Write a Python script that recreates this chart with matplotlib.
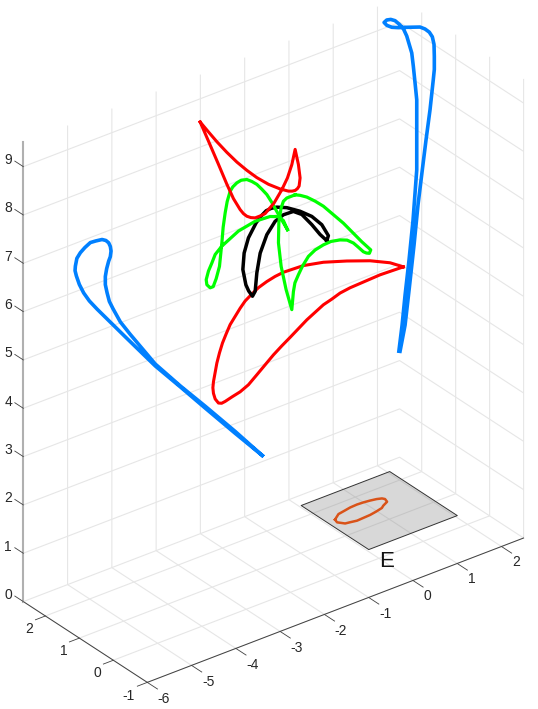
import matplotlib
matplotlib.use('Agg')
import matplotlib.pyplot as plt
from mpl_toolkits.mplot3d.art3d import Poly3DCollection

plt.rcParams['font.family'] = ['Liberation Sans', 'DejaVu Sans']

# curves
blue_left_x = [-1.102, -1.711, -2.388, -2.953, -3.517, -4.194, -4.833, -5.007, -5.135, -5.233, -5.300, -5.330, -5.323,
               -5.289, -5.210, -5.108, -4.984, -4.860, -4.720, -4.634, -4.571, -4.533, -4.517, -4.533, -4.571, -4.616,
               -4.646, -4.646, -4.607, -4.555, -4.472, -4.307, -4.081, -3.517, -2.953, -2.388, -1.711, -1.102]
blue_left_z = [1.60, 2.27, 3.03, 3.67, 4.30, 5.14, 5.94, 6.17, 6.38, 6.59, 6.79, 6.91, 7.00,
               7.15, 7.24, 7.31, 7.37, 7.36, 7.34, 7.29, 7.22, 7.13, 7.03, 6.92, 6.84, 6.70,
               6.55, 6.38, 6.20, 6.00, 5.82, 5.49, 5.15, 4.34, 3.69, 3.07, 2.31, 1.60]
blue_left_y = 2.0

blue_right_x = [1.217, 1.289, 1.357, 1.447, 1.537, 1.621, 1.621, 1.621, 1.582, 1.544, 1.508, 1.395, 1.318, 1.228,
                1.131, 1.034, 0.944, 0.883, 0.944, 1.056, 1.205, 1.395, 1.695, 1.808, 1.905, 1.973, 2.011, 2.018,
                2.018, 1.995, 1.921, 1.831, 1.747, 1.650, 1.560, 1.447, 1.357, 1.244]
blue_right_z = [3.40, 3.91, 4.51, 5.21, 6.00, 7.01, 7.78, 8.46, 8.83, 9.18, 9.47, 9.86, 10.04, 10.16,
                10.27, 10.33, 10.35, 10.32, 10.24, 10.16, 10.10, 10.04, 9.94, 9.86, 9.76, 9.64, 9.47, 9.22,
                8.95, 8.75, 8.15, 7.56, 6.97, 6.28, 5.48, 4.58, 3.89, 3.39]

red_top_x = [-3.271, -3.084, -2.894, -2.668, -2.442, -2.217, -1.991, -1.729, -1.465, -1.278, -1.194, -1.126, -1.074,
             -1.036, -1.014, -1.052, -1.126, -1.201, -1.300, -1.427, -1.600, -1.804, -1.916, -2.029, -2.126, -2.217,
             -2.293, -2.368, -2.519, -2.668, -2.858, -3.084, -3.271]
red_top_z = [9.72, 9.45, 9.18, 8.88, 8.60, 8.35, 8.12, 7.89, 7.70, 7.59, 7.56, 7.55, 7.57,
             7.61, 7.77, 8.06, 8.40, 8.11, 7.87, 7.67, 7.46, 7.31, 7.30, 7.30, 7.34, 7.40,
             7.48, 7.59, 7.87, 8.22, 8.70, 9.26, 9.72]

red_low_x = [1.318, 1.018, 0.567, 0.041, -0.488, -0.939, -1.391, -1.578, -1.765, -1.955, -2.104, -2.255, -2.368,
             -2.481, -2.594, -2.684, -2.767, -2.835, -2.894, -2.971, -2.984, -2.971, -2.932, -2.858, -2.786, -2.707,
             -2.549, -2.368, -2.181, -1.991, -1.804, -1.616, -1.427, -1.239, -0.862, -0.675, -0.488, -0.298, -0.111,
             0.115, 0.341, 0.792, 1.318]
red_low_z = [5.11, 5.30, 5.50, 5.68, 5.84, 5.93, 5.95, 5.93, 5.89, 5.83, 5.75, 5.66, 5.55,
             5.42, 5.29, 5.13, 4.97, 4.79, 4.60, 4.24, 4.12, 4.00, 3.87, 3.76, 3.73, 3.74,
             3.78, 3.82, 3.90, 4.04, 4.18, 4.32, 4.44, 4.55, 4.78, 4.87, 4.96, 5.01, 5.07,
             5.10, 5.11, 5.13, 5.11]

black_x = [-0.411, -0.375, -0.524, -0.749, -1.014, -1.314, -1.540, -1.668, -1.781, -1.894, -2.007, -2.181, -2.278,
           -2.307, -2.239, -2.176, -2.090, -2.029, -1.991, -1.916, -1.765, -1.578, -1.391, -1.165, -0.975, -0.749,
           -0.562, -0.411]
black_z = [6.26, 6.35, 6.63, 6.88, 7.08, 7.26, 7.35, 7.37, 7.36, 7.29, 7.19, 6.94, 6.66,
           6.33, 5.99, 5.84, 5.70, 5.78, 6.15, 6.53, 6.86, 7.07, 7.14, 7.13, 7.00, 6.71,
           6.44, 6.26]

green_a_x = [-1.300, -1.391, -1.503, -1.691, -2.029, -2.406, -2.781, -2.932, -3.007, -3.084, -3.135, -3.120, -3.045,
             -2.977, -2.910, -2.835, -2.781, -2.752, -2.707, -2.661, -2.594, -2.533, -2.442, -2.345, -2.217, -2.104,
             -1.991, -1.878, -1.765, -1.654, -1.540, -1.300]
green_a_z = [6.80, 7.02, 7.14, 7.21, 7.23, 7.16, 6.98, 6.86, 6.71, 6.57, 6.41, 6.30, 6.21,
             6.21, 6.35, 6.58, 7.05, 7.36, 7.64, 7.86, 8.05, 8.12, 8.17, 8.19, 8.16, 8.08,
             7.98, 7.84, 7.69, 7.49, 7.26, 6.80]

green_b_x = [-1.126, -1.314, -1.391, -1.442, -1.472, -1.494, -1.503, -1.442, -1.330, -1.201, -1.165, -1.131, -1.052,
             -0.957, -0.826, -0.675, -0.488, -0.314, -0.111, 0.047, 0.190, 0.296, 0.415, 0.483, 0.551, 0.582, 0.379,
             -0.036, -0.488, -0.675, -0.862, -1.014, -1.126]
green_b_z = [7.46, 7.46, 7.42, 7.30, 7.15, 7.01, 6.60, 6.09, 5.57, 5.11, 5.47, 5.64, 5.78,
             5.93, 6.08, 6.16, 6.20, 6.21, 6.17, 6.11, 6.00, 5.88, 5.74, 5.69, 5.66, 5.72, 5.96,
             6.49, 7.00, 7.17, 7.32, 7.41, 7.46]

curve_y = 1.0

# orbit and patch on the floor
ellipse_x = [0.22, 0.29, 0.39, 0.55, 0.70, 0.86, 1.00, 1.13, 1.26, 1.35, 1.38, 1.35, 1.21, 1.14, 0.98, 0.82, 0.66,
             0.51, 0.38, 0.28, 0.19, 0.22]
ellipse_y = [1.58, 1.63, 1.70, 1.73, 1.76, 1.77, 1.76, 1.74, 1.71, 1.67, 1.62, 1.52, 1.45, 1.40, 1.36, 1.33, 1.32,
             1.31, 1.34, 1.36, 1.48, 1.58]
patch_x = [0.05, 2.05, 2.05, 0.05]
patch_y = [2.37, 2.37, 0.38, 0.38]

x_ticks = [-6, -5, -4, -3, -2, -1, 0, 1, 2]
y_ticks = [-1, 0, 1, 2]
z_ticks = [0, 1, 2, 3, 4, 5, 6, 7, 8, 9]
x_lim = (-6, 2.5)
y_lim = (-1, 2.65)
z_lim = (0, 9.5)

fig = plt.figure(figsize=(5.38, 7.09), dpi=100)
W = 718.3
ax = fig.add_axes([-95.4 / 538, -0.1 / 709, W / 538, W / 709], projection='3d', computed_zorder=False)
ax.patch.set_alpha(0)
ax.set_proj_type('ortho')
ax.view_init(elev=30, azim=-127.5)
ax.set_xlim(*x_lim)
ax.set_ylim(*y_lim)
ax.set_zlim(*z_lim)
ax.set_box_aspect((8.5, 3.65, 9.5))
ax.set_xticks(x_ticks)
ax.set_yticks(y_ticks)
ax.set_zticks(z_ticks)

for axis in (ax.xaxis, ax.yaxis, ax.zaxis):
    axis.set_pane_color((1, 1, 1, 0))
    axis.pane.set_edgecolor((1, 1, 1, 0))
    axis._axinfo['grid'].update(color='#e6e6e6', linewidth=0.8)
    axis._axinfo['tick'].update(inward_factor=0, outward_factor=0)
    axis.set_tick_params(label1On=False, label2On=False)
    axis.line.set_color('#404040')
    axis.line.set_linewidth(0.7)
ax.zaxis.line.set_color('#b0b0b0')
ax.zaxis.line.set_linewidth(1.5)

# ticks and labels go the way matlab draws them, not the way mplot3d does
tick_c = '#404040'
label_c = '#262626'
for t in x_ticks:
    ax.plot([t, t], [y_lim[0], y_lim[0] - 0.3], [0, 0], color=tick_c, lw=0.6, zorder=1)
    ax.text(t, y_lim[0] - (0.49 if t < 0 else 0.44), -0.12, str(t), fontsize=10, color=label_c,
            ha='center', va='center')
for t in y_ticks:
    ax.plot([x_lim[0], x_lim[0] - 0.225], [t, t], [0, 0], color=tick_c, lw=0.6, zorder=1)
    ax.text(x_lim[0] - (0.42 if t < 0 else 0.36), t, -0.135, str(t), fontsize=10, color=label_c,
            ha='center', va='center')
for t in z_ticks:
    ax.plot([x_lim[0], x_lim[0]], [y_lim[1], y_lim[1] + 0.25], [t, t], color=tick_c, lw=0.6, zorder=1)
    ax.text(x_lim[0], y_lim[1] + 0.45, t - 0.07, str(t), fontsize=10, color=label_c, ha='center', va='center')

# floor patch
ax.add_collection3d(Poly3DCollection([list(zip(patch_x, patch_y, [0, 0, 0, 0]))],
                                     facecolors=(0.5, 0.5, 0.5, 0.3), edgecolors=(0.2, 0.2, 0.2, 1), linewidths=0.7,
                                     zorder=1))
ax.plot(ellipse_x, ellipse_y, [0] * len(ellipse_x), color='#d95319', lw=1.8, zorder=2)
ax.text(-0.19, -0.256, 0, 'E', fontsize=16, color='#111111', ha='left', va='baseline', zorder=3)

blue = '#0080ff'
ax.plot(blue_left_x, [blue_left_y] * len(blue_left_x), blue_left_z, color=blue, lw=2.6, zorder=3)
ax.plot(blue_right_x, [curve_y] * len(blue_right_x), blue_right_z, color=blue, lw=2.6, zorder=3)
ax.plot(red_low_x, [curve_y] * len(red_low_x), red_low_z, color='#ff0000', lw=2.2, zorder=4)
ax.plot(black_x, [curve_y] * len(black_x), black_z, color='black', lw=2.5, zorder=5)
ax.plot(green_a_x, [curve_y] * len(green_a_x), green_a_z, color='#00ff00', lw=2.3, zorder=6)
ax.plot(green_b_x, [curve_y] * len(green_b_x), green_b_z, color='#00ff00', lw=2.3, zorder=6)
ax.plot(red_top_x, [curve_y] * len(red_top_x), red_top_z, color='#ff0000', lw=2.2, zorder=7)

fig.savefig('out.png', dpi=100)
